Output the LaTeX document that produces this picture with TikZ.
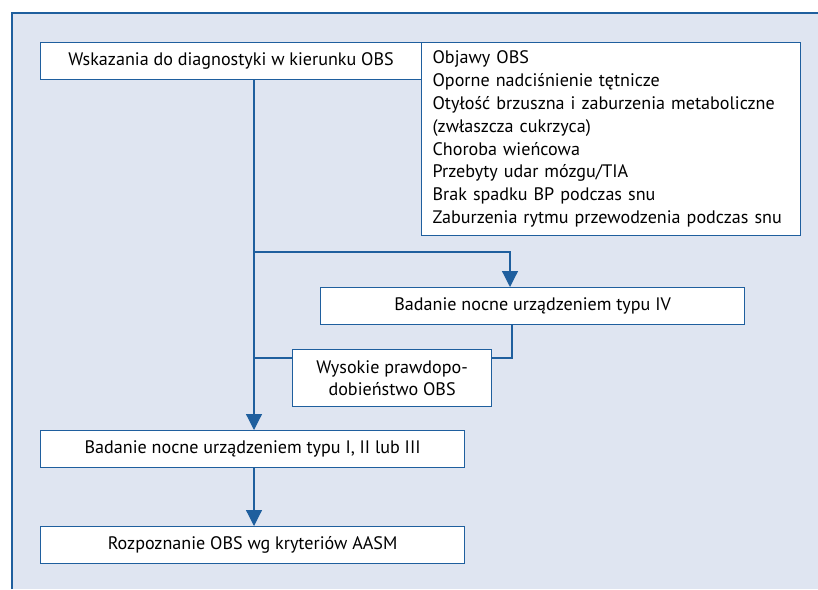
\documentclass[tikz,border=0pt]{standalone}
\usepackage{fontspec}
\setmainfont{PT Sans}
\usetikzlibrary{arrows.meta}
\definecolor{lineblue}{HTML}{1F5F9E}
\definecolor{bgblue}{HTML}{DFE5F1}
\begin{document}
\begin{tikzpicture}[x=1pt,y=-1pt,
  box/.style={draw=lineblue, line width=1.2pt, fill=white, rectangle, inner sep=0pt, anchor=north west, font=\fontsize{18.1}{22.8}\selectfont, text=black, align=center},
  conn/.style={draw=lineblue, line width=1.2pt},
  arr/.style={conn, -{Triangle[length=16pt,width=16pt]}}
]
\useasboundingbox (0,0) rectangle (818,589);
\fill[bgblue] (12,13) rectangle (818,589);
\draw[lineblue, line width=1.2pt] (12,589) -- (12,13) -- (818,13);

\node[box, minimum width=381pt, minimum height=37pt] (b1) at (40,42) {Wskazania do diagnostyki w kierunku OBS};
\node[box, minimum width=379pt, minimum height=193pt, text width=357pt, inner xsep=11pt, align=left] (list) at (421,42) {Objawy OBS\\
Oporne nadciśnienie tętnicze\\
Otyłość brzuszna i zaburzenia metaboliczne\\
(zwłaszcza cukrzyca)\\
Choroba wieńcowa\\
Przebyty udar mózgu/TIA\\
Brak spadku BP podczas snu\\
Zaburzenia rytmu przewodzenia podczas snu};
\node[box, minimum width=424pt, minimum height=37pt] (b2) at (320,287) {Badanie nocne urządzeniem typu IV};
\node[box, minimum width=199pt, minimum height=57pt] (wys) at (292,349) {Wysokie prawdopo-\\dobieństwo OBS};
\node[box, minimum width=424pt, minimum height=37pt] (b3) at (40,430) {Badanie nocne urządzeniem typu I, II lub III};
\node[box, minimum width=424pt, minimum height=37pt] (b4) at (40,526) {Rozpoznanie OBS wg kryteriów AASM};

\coordinate (tx) at (254,0);
\coordinate (split) at (254,252);
\coordinate (bx) at (510,0);
\coordinate (cx) at (512,0);
\coordinate (jy) at (0,358);

\draw[arr] (b1.south -| tx) -- (b3.north -| tx);
\draw[arr] (split) -| (b2.north -| bx);
\draw[conn] (b2.south -| cx) |- (wys.east |- jy);
\draw[conn] (wys.west |- jy) -- (tx |- jy);
\draw[arr] (b3.south -| tx) -- (b4.north -| tx);
\end{tikzpicture}
\end{document}
